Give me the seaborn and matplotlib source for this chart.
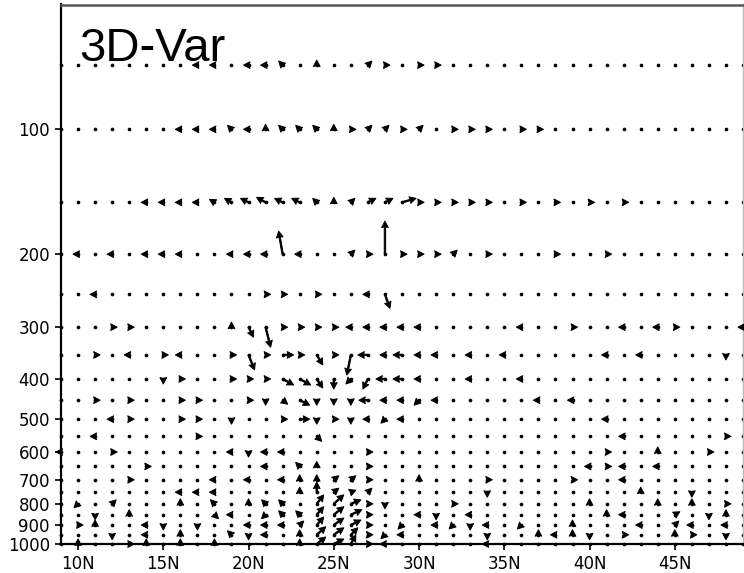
import numpy as np
import pandas as pd
import matplotlib
matplotlib.use("Agg")
import matplotlib.pyplot as plt
import seaborn as sns
from matplotlib.ticker import FixedLocator, NullLocator, FixedFormatter

# grid
lats = list(range(9, 50))
levels = [1000, 950, 900, 850, 800, 750, 700, 650, 600, 550,
          500, 450, 400, 350, 300, 250, 200, 150, 100, 70]
ytick_vals = [100, 200, 300, 400, 500, 600, 700, 800, 900, 1000]
xtick_vals = [10, 15, 20, 25, 30, 35, 40, 45]
xtick_labels = ["10N", "15N", "20N", "25N", "30N", "35N", "40N", "45N"]
title_text = "3D-Var"

# non-calm vectors per level: (lat, v component, w component)
wind_70 = [(17,-5,0),(18,-5,0),(20,-5,0),(21,-5,0),(22,-4,4),(24,0,5),(27,4,4),(28,5,0),(30,5,0),(31,5,0)]
wind_100 = [(16,-5,0),(17,-5,0),(18,-5,0),(19,-4,4),(20,-5,0),(21,0,5),(22,-4,4),(23,-4,4),(24,-4,4),(25,0,5),
            (26,5,0),(27,4,4),(28,4,4),(29,5,0),(30,4,4),(32,5,0),(33,5,0),(34,5,0),(36,5,0),(37,5,0)]
wind_150 = [(14,-5,0),(15,-5,0),(16,-5,0),(17,-5,0),(18,-5,3),(19,-7,4),(20,-8,4),(21,-9,5),(22,-8,4),(23,-8,4),
            (24,-4,4),(25,0,5),(26,4,4),(27,8,4),(28,8,4),(29,14,4),(30,5,0),(31,5,0),(32,5,0),(33,5,0),
            (34,5,0),(36,5,0),(38,5,0),(40,5,0),(42,5,0)]
wind_200 = [(10,-5,0),(12,-5,0),(14,-5,0),(15,-5,0),(16,-5,0),(19,-5,0),(20,-5,0),(21,-5,0),(22,-4,23),(23,-5,0),
            (26,4,4),(27,5,0),(28,0,33),(29,5,0),(30,5,0),(31,5,0),(32,4,4),(34,5,0),(38,5,0),(41,5,0)]
wind_250 = [(11,-5,0),(21,5,0),(22,5,0),(24,5,0),(27,-5,0),(28,5,-14)]
wind_300 = [(12,5,0),(13,5,0),(19,0,5),(20,5,-10),(21,5,-20),(22,5,0),(23,5,0),(24,5,0),(25,5,0),(26,-5,0),
            (27,-5,0),(28,-5,0),(29,-5,0),(30,-5,0),(36,-5,0),(39,5,0),(42,-5,0),(44,-5,0),(45,5,0),(49,-5,0)]
wind_350 = [(11,5,0),(13,-5,0),(15,5,0),(16,-5,0),(19,5,0),(20,6,-15),(21,5,0),(22,11,0),(23,5,0),(24,6,-10),
            (25,5,0),(26,-4,-20),(27,-10,0),(28,-5,0),(29,-9,0),(30,-5,0),(31,-5,0),(33,-5,0),(35,-5,0),
            (41,-5,0),(43,-5,0),(48,0,-5)]
wind_400 = [(15,0,-5),(16,5,0),(19,5,0),(20,5,0),(21,5,0),(22,11,-6),(23,11,-6),(24,6,-9),(25,0,-10),(26,-5,-5),
            (27,-5,-10),(28,-9,0),(29,-9,0),(30,-5,0),(33,-5,0),(36,-5,0)]
wind_450 = [(11,5,0),(13,5,0),(16,5,0),(17,5,0),(20,5,0),(21,0,-5),(22,5,-4),(23,10,-5),(24,0,-5),(25,0,-5),
            (26,0,-5),(27,-9,0),(28,-5,0),(29,-5,0),(30,-5,-5),(31,-5,0),(37,-5,0),(39,-5,0)]
wind_500 = [(12,-5,0),(13,5,0),(16,5,0),(17,5,0),(19,0,-5),(22,5,0),(23,10,0),(24,0,-5),(25,5,0),(26,0,-5),
            (27,-5,0),(28,-4,-4),(29,-5,0),(41,-5,0)]
wind_550 = [(11,-5,0),(17,5,0),(24,5,-5),(42,-5,0),(48,5,0)]
wind_600 = [(9,-5,0),(12,5,0),(19,-5,0),(20,0,-5),(21,-5,0),(22,-5,0),(27,5,0),(41,5,0),(44,0,5),(47,5,0)]
wind_650 = [(14,5,0),(21,-5,0),(23,-4,4),(24,0,5),(27,5,0),(40,-5,0),(41,5,0),(42,-5,0),(44,-5,0)]
wind_700 = [(13,5,0),(18,-5,0),(20,-5,0),(22,-5,0),(23,0,5),(24,0,5),(25,5,4),(26,5,4),(27,5,0),(30,0,5),
            (34,5,0),(39,5,0),(42,-5,0)]
wind_750 = [(16,-5,0),(17,-5,0),(18,-5,0),(23,0,5),(24,0,10),(25,5,4),(26,5,2),(27,4,4),(34,0,-5),(43,0,5),(46,0,-5)]
wind_800 = [(10,-4,-4),(12,4,4),(16,0,5),(18,-4,4),(20,0,5),(21,-4,4),(22,-4,4),(24,7,9),(25,10,9),(26,10,4),
            (27,5,0),(28,0,-5),(32,5,0),(40,0,5),(44,0,5),(46,0,5),(48,5,0)]
wind_850 = [(11,0,-5),(13,0,5),(18,4,-4),(19,-5,0),(21,-4,-4),(22,-4,4),(23,-4,4),(24,7,8),(25,10,8),(26,11,5),
            (27,5,0),(30,-5,0),(31,0,-5),(33,-5,0),(41,0,5),(42,-5,0),(45,5,3),(47,0,-5),(48,0,5)]
wind_900 = [(10,5,0),(11,0,5),(14,-5,0),(15,0,-5),(17,0,-5),(20,-5,0),(21,-5,0),(22,-5,0),(23,4,4),(24,7,8),
            (25,10,7),(26,10,5),(27,5,0),(29,-4,-4),(31,-5,0),(32,-4,-4),(33,0,-5),(34,-5,0),(36,-4,-4),
            (39,0,5),(43,-5,0),(45,4,4),(46,-5,0),(48,-5,0)]
wind_950 = [(12,0,-5),(14,-5,0),(16,0,5),(19,-4,4),(20,0,-5),(21,-5,0),(23,0,5),(24,9,8),(25,10,7),(26,7,7),
            (27,5,0),(28,-4,-4),(29,-5,0),(34,0,-5),(37,0,5),(38,-5,0),(39,0,5),(40,0,-5),(42,5,0),
            (45,0,5),(46,5,0),(48,0,-5)]
wind_1000 = [(10,0,5),(13,5,0),(14,0,5),(16,0,5),(18,0,5),(23,0,5),(24,9,7),(25,10,5),(26,5,9),(27,5,0),
             (28,-5,0),(34,-5,0)]

wind_by_level = {70: wind_70, 100: wind_100, 150: wind_150, 200: wind_200, 250: wind_250,
                 300: wind_300, 350: wind_350, 400: wind_400, 450: wind_450, 500: wind_500,
                 550: wind_550, 600: wind_600, 650: wind_650, 700: wind_700, 750: wind_750,
                 800: wind_800, 850: wind_850, 900: wind_900, 950: wind_950, 1000: wind_1000}

rows = []
for lev, lst in wind_by_level.items():
    for lat, v, w in lst:
        rows.append((lat, lev, v, w))
vec = pd.DataFrame(rows, columns=["lat", "lev", "v", "w"])

grid = pd.DataFrame([(la, lv) for lv in levels for la in lats], columns=["lat", "lev"])

sns.set_style("white")
plt.rcParams['font.family'] = ['DejaVu Sans']

W, H = 744, 573
fig = plt.figure(figsize=(W / 100, H / 100), dpi=100)
ax = fig.add_axes([61 / W, 1 - 544 / H, (743 - 61) / W, (544 - 4.5) / H])

ax.set_yscale('log')
ax.set_xlim(9, 49)
ax.set_ylim(1000, 50)

sns.scatterplot(data=grid, x="lat", y="lev", ax=ax, s=7, color="black",
                linewidth=0, marker="o", legend=False, clip_on=False, zorder=2)

ax.quiver(vec["lat"].to_numpy(), vec["lev"].to_numpy(), vec["v"].to_numpy(), vec["w"].to_numpy(),
          angles='uv', scale_units='dots', scale=1, units='dots', width=1.4,
          headwidth=4.8, headlength=4.6, headaxislength=4.1, minshaft=0, minlength=0,
          pivot='tail', color='black', edgecolor='black', linewidth=0.7,
          zorder=3, clip_on=False)

ax.yaxis.set_major_locator(FixedLocator(ytick_vals))
ax.yaxis.set_major_formatter(FixedFormatter([str(v) for v in ytick_vals]))
ax.yaxis.set_minor_locator(NullLocator())
ax.xaxis.set_major_locator(FixedLocator(xtick_vals))
ax.xaxis.set_major_formatter(FixedFormatter(xtick_labels))
ax.xaxis.set_minor_locator(NullLocator())
ax.tick_params(axis='both', which='major', direction='out', length=4, width=1.2,
               labelsize=12, colors='black', left=True, bottom=True, pad=4)
ax.set_xlabel("")
ax.set_ylabel("")

for side in ['left', 'bottom']:
    ax.spines[side].set_color('black')
    ax.spines[side].set_linewidth(1.6)
ax.spines['top'].set_color('#555555')
ax.spines['top'].set_linewidth(1.8)
ax.spines['right'].set_color('#bbbbbb')
ax.spines['right'].set_linewidth(1.0)

fig.text(79 / W, 1 - 61 / H, title_text, fontsize=34, family=['Liberation Sans', 'DejaVu Sans'],
         va='baseline', ha='left', color='black')

fig.savefig("out.png", dpi=100)
